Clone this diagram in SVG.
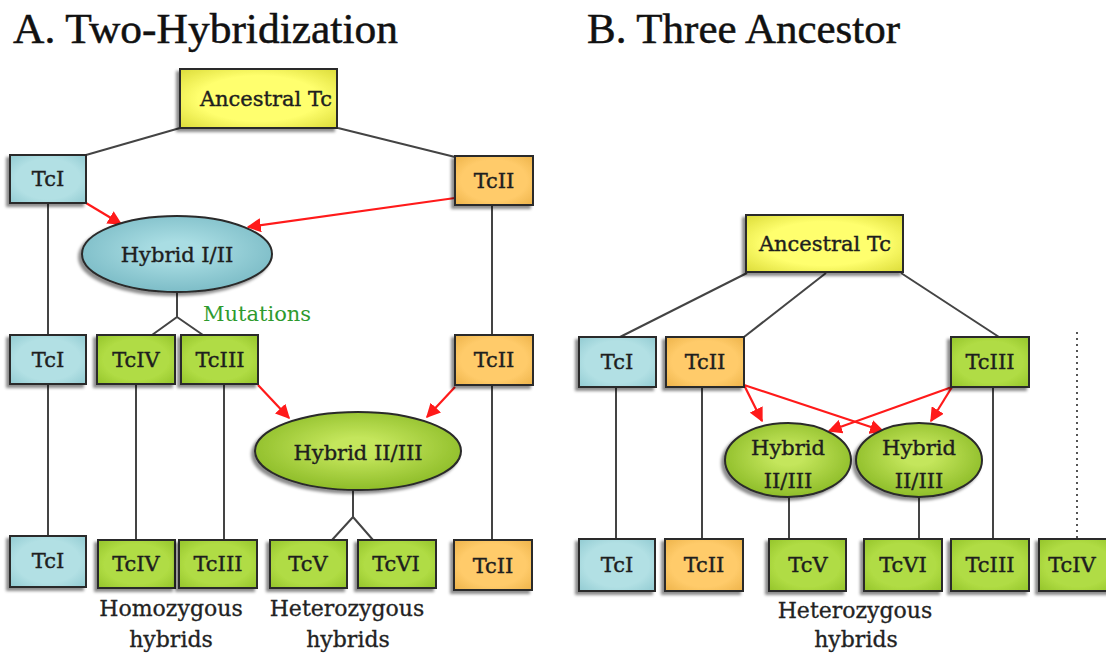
<svg xmlns="http://www.w3.org/2000/svg" width="1106" height="654" viewBox="0 0 1106 654">
<defs>
<filter id="sh" x="-20%" y="-20%" width="140%" height="150%">
<feDropShadow dx="-3" dy="3" stdDeviation="1.6" flood-color="#000" flood-opacity="0.45"/>
</filter>
<radialGradient id="gY" cx="0.5" cy="0.5" r="0.7"><stop offset="0.55" stop-color="#FFFF6E"/><stop offset="1" stop-color="#DCDC3A"/></radialGradient>
<radialGradient id="gB" cx="0.5" cy="0.5" r="0.7"><stop offset="0.6" stop-color="#B2E0E4"/><stop offset="1" stop-color="#92CBD2"/></radialGradient>
<radialGradient id="gO" cx="0.5" cy="0.5" r="0.7"><stop offset="0.6" stop-color="#FFCB6A"/><stop offset="1" stop-color="#EDB34A"/></radialGradient>
<radialGradient id="gG" cx="0.5" cy="0.5" r="0.7"><stop offset="0.6" stop-color="#B0DC44"/><stop offset="1" stop-color="#94C42A"/></radialGradient>
<radialGradient id="gTe" cx="0.5" cy="0.45" r="0.6"><stop offset="0.2" stop-color="#A9DDE3"/><stop offset="1" stop-color="#78B9C4"/></radialGradient>
<radialGradient id="gGe" cx="0.5" cy="0.45" r="0.6"><stop offset="0.2" stop-color="#C4E65C"/><stop offset="1" stop-color="#88B823"/></radialGradient>
<marker id="ar" viewBox="0 0 10 10" refX="9" refY="5" markerWidth="6.5" markerHeight="6.5" orient="auto" markerUnits="strokeWidth">
<path d="M0,0 L10,5 L0,10 z" fill="#FF1A1A"/>
</marker>
<style>
.bx{stroke:#2a2a2a;stroke-width:2;filter:url(#sh)}
.y{fill:url(#gY)}.b{fill:url(#gB)}.o{fill:url(#gO)}.g{fill:url(#gG)}
.te{fill:url(#gTe)}.ge{fill:url(#gGe)}
.t{font-family:"DejaVu Serif","Liberation Serif",serif;font-size:21px;fill:#1e1e1e;stroke:#1e1e1e;stroke-width:0.4;text-anchor:middle}
.lb{font-family:"DejaVu Serif","Liberation Serif",serif;font-size:22px;fill:#222;stroke:#222;stroke-width:0.3;text-anchor:middle}
.ttl{font-family:"Liberation Serif",serif;font-size:43px;fill:#111;stroke:#111;stroke-width:0.5}
.mut{font-family:"DejaVu Serif","Liberation Serif",serif;font-size:21px;fill:#2E9A2E}
.ln{stroke:#444;stroke-width:2;fill:none}
.dot{stroke:#555;stroke-width:2;fill:none;stroke-dasharray:2 4}
.ra{stroke:#FF1A1A;stroke-width:2.2;fill:none;marker-end:url(#ar)}
</style>
</defs>
<rect width="1106" height="654" fill="#fff"/>

<text class="ttl" x="13" y="43" textLength="385" lengthAdjust="spacingAndGlyphs">A. Two-Hybridization</text>
<text class="ttl" x="587" y="43" textLength="313" lengthAdjust="spacingAndGlyphs">B. Three Ancestor</text>

<g id="connectors">
<!-- Panel A -->
<path class="ln" d="M180,128 L86,155"/>
<path class="ln" d="M338,128 L455,157"/>
<path class="ln" d="M48,203 V335 M48,384 V536"/>
<path class="ln" d="M492,205 V335 M492,385 V540"/>
<path class="ln" d="M177,292 V317 L152,335 M177,317 L203,335"/>
<path class="ln" d="M136,384 V540 M224,384 V540"/>
<path class="ln" d="M353,490 V517 L332,540 M353,517 L373,540"/>
<path class="ra" d="M86,203 L121,224"/>
<path class="ra" d="M455,198 L248,227"/>
<path class="ra" d="M258,385 L289,418"/>
<path class="ra" d="M455,387 L427,417"/>
<!-- Panel B -->
<path class="ln" d="M747,273 L620,337"/>
<path class="ln" d="M826,273 L744,337"/>
<path class="ln" d="M901,273 L999,337"/>
<path class="ln" d="M616,387 V539 M702,387 V539 M993,387 V539"/>
<path class="ln" d="M789,497 V539 M919,497 V539"/>
<path class="dot" d="M1077,332 V539"/>
<path class="ra" d="M744,385 L762,421"/>
<path class="ra" d="M744,385 L883,431"/>
<path class="ra" d="M952,387 L931,421"/>
<path class="ra" d="M952,387 L829,431"/>
</g>

<!-- Panel A nodes -->
<g id="a-anc"><rect class="bx y" x="180" y="69" width="157" height="59"/><text class="t" x="266" y="106">Ancestral Tc</text></g>
<g id="a-tc1-1"><rect class="bx b" x="10" y="155" width="76" height="48"/><text class="t" x="48" y="186">TcI</text></g>
<g id="a-tc2-1"><rect class="bx o" x="455" y="156" width="78" height="49"/><text class="t" x="494" y="188">TcII</text></g>
<g id="a-hyb12"><ellipse class="bx te" cx="177" cy="254" rx="95" ry="38"/><text class="t" x="177" y="262">Hybrid I/II</text></g>
<text class="mut" x="203" y="321">Mutations</text>
<g id="a-tc1-2"><rect class="bx b" x="10" y="335" width="76" height="49"/><text class="t" x="48" y="367">TcI</text></g>
<g id="a-tc4-2"><rect class="bx g" x="97" y="335" width="78" height="49"/><text class="t" x="136" y="367">TcIV</text></g>
<g id="a-tc3-2"><rect class="bx g" x="181" y="335" width="77" height="49"/><text class="t" x="220" y="367">TcIII</text></g>
<g id="a-tc2-2"><rect class="bx o" x="455" y="335" width="78" height="50"/><text class="t" x="494" y="367">TcII</text></g>
<g id="a-hyb23"><ellipse class="bx ge" cx="358" cy="451" rx="103" ry="39"/><text class="t" x="358" y="460">Hybrid II/III</text></g>
<g id="a-tc1-3"><rect class="bx b" x="10" y="536" width="76" height="51"/><text class="t" x="48" y="568">TcI</text></g>
<g id="a-tc4-3"><rect class="bx g" x="98" y="540" width="77" height="48"/><text class="t" x="136" y="571">TcIV</text></g>
<g id="a-tc3-3"><rect class="bx g" x="179" y="540" width="78" height="48"/><text class="t" x="218" y="571">TcIII</text></g>
<g id="a-tc5-3"><rect class="bx g" x="270" y="540" width="77" height="48"/><text class="t" x="308" y="571">TcV</text></g>
<g id="a-tc6-3"><rect class="bx g" x="358" y="540" width="78" height="48"/><text class="t" x="396" y="571">TcVI</text></g>
<g id="a-tc2-3"><rect class="bx o" x="454" y="540" width="78" height="50"/><text class="t" x="493" y="573">TcII</text></g>
<text class="lb" x="171" y="616">Homozygous</text>
<text class="lb" x="171" y="647">hybrids</text>
<text class="lb" x="347" y="616">Heterozygous</text>
<text class="lb" x="348" y="647">hybrids</text>

<!-- Panel B nodes -->
<g id="b-anc"><rect class="bx y" x="746" y="215" width="157" height="57"/><text class="t" x="825" y="251">Ancestral Tc</text></g>
<g id="b-tc1-1"><rect class="bx b" x="579" y="337" width="77" height="50"/><text class="t" x="617" y="369">TcI</text></g>
<g id="b-tc2-1"><rect class="bx o" x="666" y="337" width="78" height="50"/><text class="t" x="705" y="369">TcII</text></g>
<g id="b-tc3-1"><rect class="bx g" x="951" y="337" width="78" height="50"/><text class="t" x="990" y="369">TcIII</text></g>
<g id="b-hybL"><ellipse class="bx ge" cx="788" cy="460" rx="63" ry="37"/><text class="t" x="788" y="455">Hybrid</text><text class="t" x="788" y="488">II/III</text></g>
<g id="b-hybR"><ellipse class="bx ge" cx="919" cy="460" rx="63" ry="37"/><text class="t" x="919" y="455">Hybrid</text><text class="t" x="919" y="488">II/III</text></g>
<g id="b-tc1-3"><rect class="bx b" x="579" y="539" width="76" height="52"/><text class="t" x="617" y="572">TcI</text></g>
<g id="b-tc2-3"><rect class="bx o" x="665" y="539" width="78" height="52"/><text class="t" x="704" y="572">TcII</text></g>
<g id="b-tc5-3"><rect class="bx g" x="769" y="539" width="77" height="52"/><text class="t" x="808" y="572">TcV</text></g>
<g id="b-tc6-3"><rect class="bx g" x="864" y="539" width="78" height="52"/><text class="t" x="903" y="572">TcVI</text></g>
<g id="b-tc3-3"><rect class="bx g" x="951" y="539" width="78" height="52"/><text class="t" x="990" y="572">TcIII</text></g>
<g id="b-tc4-3"><rect class="bx g" x="1039" y="539" width="78" height="52"/><text class="t" x="1072" y="572">TcIV</text></g>
<text class="lb" x="855" y="618">Heterozygous</text>
<text class="lb" x="856" y="647">hybrids</text>
</svg>
